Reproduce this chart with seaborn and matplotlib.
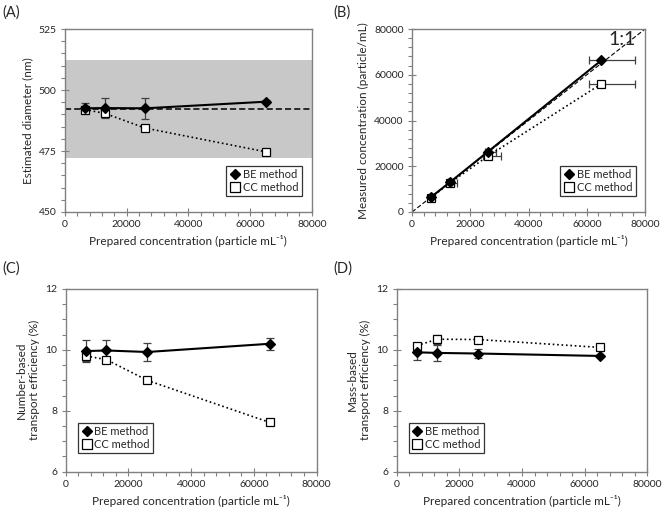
import numpy as np
import pandas as pd
import matplotlib
matplotlib.use("Agg")
import matplotlib.pyplot as plt
import seaborn as sns
from matplotlib.ticker import MultipleLocator
from matplotlib.lines import Line2D

# prepared concentrations (particle/mL)
conc = [6500, 13000, 26000, 65000]

# (A) estimated diameter (nm)
diam_be = [492.5, 492.6, 492.5, 495.2]
diam_be_err = [2.0, 4.2, 4.3, 0.5]
diam_cc = [492.0, 490.4, 484.4, 474.7]
diam_cc_err = [1.5, 1.2, 0.8, 0.6]
ref_diam = 492.2
ref_band = [472.3, 512.2]

# (B) measured concentration (particle/mL)
meas_be = [6500, 13000, 26300, 66300]
meas_cc = [6300, 12700, 24400, 56000]
cc_xerr_lo = [600, 800, 1600, 4200]
cc_xerr_hi = [700, 2500, 4700, 11700]
be_xerr_lo = [400, 500, 1000, 4200]
be_xerr_hi = [400, 1500, 2800, 11700]

# (C) number-based transport efficiency (%)
num_be = [9.96, 9.98, 9.93, 10.20]
num_be_err = [0.35, 0.36, 0.31, 0.20]
num_cc = [9.80, 9.68, 9.00, 7.62]
num_cc_err = [0.15, 0.08, 0.04, 0.04]

# (D) mass-based transport efficiency (%)
mass_be = [9.92, 9.90, 9.88, 9.80]
mass_be_err = [0.25, 0.25, 0.15, 0.03]
mass_cc = [10.14, 10.35, 10.34, 10.08]
mass_cc_err = [0.10, 0.15, 0.08, 0.04]

sns.set_style("ticks")
plt.rcParams["font.family"] = ["Lato", "DejaVu Sans"]
plt.rcParams["font.size"] = 8

fig = plt.figure(figsize=(6.62, 5.09), dpi=100)
axA = fig.add_axes([0.098, 0.5835, 0.373, 0.3595])
axB = fig.add_axes([0.6224, 0.5835, 0.352, 0.3595])
axC = fig.add_axes([0.0992, 0.0733, 0.379, 0.359])
axD = fig.add_axes([0.599, 0.0733, 0.379, 0.359])

xlab = "Prepared concentration (particle mL⁻¹)"
spine_col = "#808080"


def draw_series(ax, x, y, yerr=None, xerr=None, style="BE"):
    df = pd.DataFrame({"x": x, "y": y})
    if style == "BE":
        ls, mk, mfc, lw = "-", "D", "black", 1.5
    else:
        ls, mk, mfc, lw = ":", "s", "white", 1.2
    ax.errorbar(x, y, yerr=yerr, xerr=xerr, fmt="none", ecolor="#404040",
                elinewidth=0.9, capsize=2.8, capthick=0.9, zorder=3)
    sns.lineplot(data=df, x="x", y="y", ax=ax, color="black", linestyle=ls,
                 linewidth=lw, marker=mk, markersize=5.5 if style == "BE" else 6,
                 markerfacecolor=mfc, markeredgecolor="black",
                 markeredgewidth=0.9, zorder=4)


def style_axes(ax, ylim, ymaj, ymin, ylabel):
    ax.set_xlim(0, 80000)
    ax.set_ylim(*ylim)
    ax.xaxis.set_major_locator(MultipleLocator(20000))
    ax.xaxis.set_minor_locator(MultipleLocator(4000))
    ax.yaxis.set_major_locator(MultipleLocator(ymaj))
    ax.yaxis.set_minor_locator(MultipleLocator(ymin))
    ax.tick_params(which="major", direction="inout", length=6, width=0.8,
                   color=spine_col, labelsize=7.5, pad=3)
    ax.tick_params(which="minor", direction="out", length=3, width=0.8,
                   color=spine_col)
    for s in ax.spines.values():
        s.set_color(spine_col)
        s.set_linewidth(1.0)
    ax.set_xlabel(xlab, fontsize=8.5, labelpad=4)
    ax.set_ylabel(ylabel, fontsize=8.5)


def add_legend(ax, loc, anchor):
    handles = [
        Line2D([], [], color="black", marker="D", linestyle="none",
               markersize=5.5),
        Line2D([], [], color="black", marker="s", markerfacecolor="white",
               linestyle="none", markersize=6.5, markeredgewidth=0.9),
    ]
    leg = ax.legend(handles, ["BE method", "CC method"], loc=loc,
                    bbox_to_anchor=anchor, frameon=True, fancybox=False,
                    edgecolor="black", fontsize=8, handletextpad=0.2,
                    borderpad=0.3, labelspacing=0.2, handlelength=1.0,
                    borderaxespad=0)
    leg.get_frame().set_linewidth(0.9)


# (A)
axA.axhspan(ref_band[0], ref_band[1], color="#c8c8c8", lw=0, zorder=0)
axA.axhline(ref_diam, color="black", linestyle=(0, (4, 2)), lw=1.1, zorder=2)
draw_series(axA, conc, diam_cc, yerr=diam_cc_err, style="CC")
draw_series(axA, conc, diam_be, yerr=diam_be_err, style="BE")
style_axes(axA, (450, 525), 25, 5, "Estimated diameter (nm)")
add_legend(axA, "lower right", (0.96, 0.085))

# (B)
axB.plot([0, 80000], [0, 80000], color="black", linestyle=(0, (4, 2)),
         lw=0.8, zorder=2)
draw_series(axB, conc, meas_cc, xerr=[cc_xerr_lo, cc_xerr_hi], style="CC")
draw_series(axB, conc, meas_be, xerr=[be_xerr_lo, be_xerr_hi], style="BE")
axB.text(77000, 71500, "1:1", fontsize=14, ha="right", va="bottom")
style_axes(axB, (0, 80000), 20000, 4000, "Measured concentration (particle/mL)")
add_legend(axB, "lower right", (0.96, 0.085))

# (C)
draw_series(axC, conc, num_cc, yerr=num_cc_err, style="CC")
draw_series(axC, conc, num_be, yerr=num_be_err, style="BE")
style_axes(axC, (6, 12), 2, 0.5,
           "Number-based\ntransport efficiency (%)")
add_legend(axC, "lower left", (0.048, 0.1))

# (D)
draw_series(axD, conc, mass_cc, yerr=mass_cc_err, style="CC")
draw_series(axD, conc, mass_be, yerr=mass_be_err, style="BE")
style_axes(axD, (6, 12), 2, 0.5,
           "Mass-based\ntransport efficiency (%)")
add_legend(axD, "lower left", (0.048, 0.1))

for lab, (fx, fy) in zip(["(A)", "(B)", "(C)", "(D)"],
                         [(0.003, 0.975), (0.503, 0.975),
                          (0.003, 0.472), (0.503, 0.472)]):
    fig.text(fx, fy, lab, fontsize=10.5, ha="left", va="center")

fig.savefig("out.png", dpi=100)
